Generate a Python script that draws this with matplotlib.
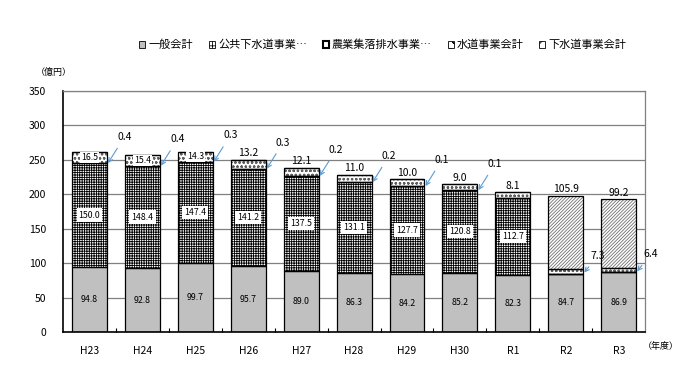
import numpy as np
import matplotlib
matplotlib.use("Agg")
import matplotlib.pyplot as plt
from matplotlib.patches import Patch

plt.rcParams['font.family'] = ['Noto Sans CJK JP', 'DejaVu Sans']
plt.rcParams['hatch.linewidth'] = 0.6

# data (億円)
years = ['H23', 'H24', 'H25', 'H26', 'H27', 'H28', 'H29', 'H30', 'R1', 'R2', 'R3']
general = [94.8, 92.8, 99.7, 95.7, 89.0, 86.3, 84.2, 85.2, 82.3, 84.7, 86.9]
public_sewer = [150.0, 148.4, 147.4, 141.2, 137.5, 131.1, 127.7, 120.8, 112.7, 0, 0]
rural_drain = [0.4, 0.4, 0.3, 0.3, 0.2, 0.2, 0.1, 0.1, 0, 0, 0]
water = [16.5, 15.4, 14.3, 13.2, 12.1, 11.0, 10.0, 9.0, 8.1, 7.3, 6.4]
sewer_acct = [0, 0, 0, 0, 0, 0, 0, 0, 0, 105.9, 99.2]
legend_labels = ['一般会計', '公共下水道事業…', '農業集落排水事業…', '水道事業会計', '下水道事業会計']

x = np.arange(len(years))
w = 0.66

fig = plt.figure(figsize=(6.9, 3.8), dpi=100)
ax = fig.add_axes([0.0913, 0.1263, 0.8437, 0.6342])

styles = [
    dict(color='#c0c0c0', hatch=None, hc='#c0c0c0'),
    dict(color='white', hatch='+++++++', hc='black'),
    dict(color='black', hatch=None, hc='black'),
    dict(color='white', hatch='oooo', hc='#606060'),
    dict(color='white', hatch='//////////', hc='#707070'),
]
series = [general, public_sewer, rural_drain, water, sewer_acct]

bottom = np.zeros(len(years))
for vals, st in zip(series, styles):
    vals = np.array(vals)
    ax.bar(x, vals, w, bottom=bottom, color=st['color'], hatch=st['hatch'],
           edgecolor=st['hc'], linewidth=0, zorder=2)
    ax.bar(x, vals, w, bottom=bottom, fill=False, edgecolor='black',
           linewidth=0.9, zorder=3)
    bottom += vals
total = bottom

vfs = 6.3
general = np.array(general)
public_sewer = np.array(public_sewer)
rural_drain = np.array(rural_drain)
water = np.array(water)
sewer_acct = np.array(sewer_acct)

arrow = dict(arrowstyle='->', color='#5b9bd5', lw=0.8, shrinkA=3, shrinkB=0)
for i in range(len(years)):
    ax.text(x[i], general[i] / 2, f'{general[i]:.1f}', ha='center', va='center',
            fontsize=vfs, zorder=5)
    if public_sewer[i] > 0:
        ax.text(x[i], general[i] + public_sewer[i] / 2, f'{public_sewer[i]:.1f}',
                ha='center', va='center', fontsize=vfs, zorder=5,
                bbox=dict(facecolor='white', edgecolor='none', pad=1.5))
    base = general[i] + public_sewer[i]
    if rural_drain[i] > 0:
        top_rd = base + rural_drain[i]
        ax.annotate(f'{rural_drain[i]:.1f}', xy=(x[i] + w / 2 + 0.02, top_rd),
                    xytext=(x[i] + 0.66, top_rd + 38), fontsize=7.5,
                    ha='center', va='center', zorder=6, arrowprops=arrow)
    wb = base + rural_drain[i]
    if sewer_acct[i] > 0:
        ax.annotate(f'{water[i]:.1f}', xy=(x[i] + w / 2 + 0.02, wb + water[i] / 2 - 2),
                    xytext=(x[i] + 0.6, wb + 26), fontsize=7.5,
                    ha='center', va='center', zorder=6, arrowprops=arrow)
        ax.text(x[i], total[i] + 2, f'{sewer_acct[i]:.1f}', ha='center',
                va='bottom', fontsize=7.5, zorder=5)
    elif water[i] >= 14:
        ax.text(x[i], wb + water[i] / 2, f'{water[i]:.1f}', ha='center',
                va='center', fontsize=vfs, zorder=5,
                bbox=dict(facecolor='white', edgecolor='none', pad=0.8))
    else:
        ax.text(x[i], total[i] + 2, f'{water[i]:.1f}', ha='center',
                va='bottom', fontsize=7.5, zorder=5)

ax.set_xlim(-0.5, len(years) - 0.5)
ax.set_ylim(0, 350)
ax.set_yticks(np.arange(0, 351, 50))
ax.yaxis.grid(True, color='#808080', linewidth=0.9, zorder=0)
ax.set_axisbelow(True)
ax.set_xticks(x)
ax.set_xticklabels(years, fontsize=7.5)
ax.set_xticks(np.arange(0.5, len(years) - 1, 1), minor=True)
ax.tick_params(axis='x', which='major', length=0, pad=10)
ax.tick_params(axis='x', which='minor', length=3, direction='in', width=0.8)
ax.tick_params(axis='y', length=0, labelsize=7.5, pad=12)
for s in ['left', 'bottom']:
    ax.spines[s].set_color('black')
    ax.spines[s].set_linewidth(1.2)
for s in ['top', 'right']:
    ax.spines[s].set_color('#808080')
    ax.spines[s].set_linewidth(0.9)

fig.text(0.078, 0.81, '（億円）', fontsize=6.5, ha='center', va='center')
fig.text(0.958, 0.088, '（年度）', fontsize=6.5, ha='center', va='center')

handles = [Patch(facecolor=st['color'], edgecolor='black',
                 hatch=None if st['hatch'] is None else st['hatch'][:2], linewidth=0.6)
           for st in styles]
handles[2] = Patch(facecolor='white', edgecolor='black', linewidth=1.5)
fig.legend(handles, legend_labels, loc='center', bbox_to_anchor=(0.555, 0.882),
           ncol=5, frameon=False, fontsize=8, handlelength=0.55,
           handleheight=0.55, handletextpad=0.3, columnspacing=1.4)

fig.savefig('out.png', dpi=100)
